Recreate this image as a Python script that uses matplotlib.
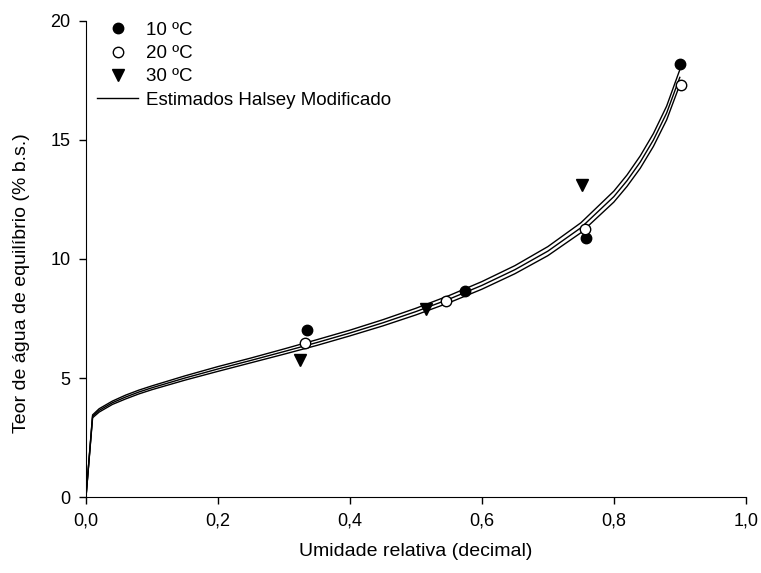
import matplotlib
matplotlib.use("Agg")
import matplotlib.pyplot as plt
from matplotlib.ticker import FuncFormatter

plt.rcParams["font.family"] = ["Liberation Sans", "DejaVu Sans"]

aw_10 = [0.335, 0.574, 0.758, 0.900]
x_10 = [7.00, 8.67, 10.87, 18.19]

aw_20 = [0.332, 0.545, 0.756, 0.902]
x_20 = [6.48, 8.24, 11.25, 17.31]

aw_30 = [0.325, 0.515, 0.752]
x_30 = [5.75, 7.90, 13.10]

# ---- Halsey modificado curves ----
aw_fit = [0.0, 0.01, 0.02, 0.04, 0.06, 0.08, 0.10, 0.15, 0.20, 0.25, 0.30,
          0.35, 0.40, 0.45, 0.50, 0.55, 0.60, 0.65, 0.70, 0.75, 0.80, 0.82,
          0.84, 0.86, 0.88, 0.90]
fit_top = [0, 3.45, 3.71, 4.03, 4.28, 4.49, 4.67, 5.09, 5.48, 5.84, 6.22,
           6.61, 7.01, 7.45, 7.93, 8.46, 9.05, 9.72, 10.52, 11.52, 12.85,
           13.53, 14.33, 15.27, 16.42, 17.95]
fit_mid = [0, 3.39, 3.64, 3.96, 4.20, 4.41, 4.59, 5.00, 5.38, 5.74, 6.11,
           6.49, 6.89, 7.32, 7.79, 8.31, 8.89, 9.55, 10.33, 11.31, 12.62,
           13.29, 14.07, 15.00, 16.13, 17.63]
fit_low = [0, 3.33, 3.57, 3.89, 4.12, 4.33, 4.51, 4.91, 5.28, 5.64, 6.00,
           6.37, 6.77, 7.19, 7.65, 8.16, 8.73, 9.38, 10.14, 11.10, 12.39,
           13.05, 13.81, 14.73, 15.84, 17.32]

fig = plt.figure(figsize=(7.61, 5.73), dpi=100)
ax = fig.add_axes([0.113, 0.1326, 0.867, 0.8308])

ax.plot(aw_fit, fit_top, color="black", lw=1.0,
        label="Estimados Halsey Modificado")
ax.plot(aw_fit, fit_mid, color="black", lw=1.0)
ax.plot(aw_fit, fit_low, color="black", lw=1.0)

ax.plot(aw_10, x_10, "o", ms=7.5, mfc="black", mec="black", ls="none",
        label="10 ºC")
ax.plot(aw_20, x_20, "o", ms=7.5, mfc="white", mec="black", mew=1.0,
        ls="none", label="20 ºC")
ax.plot(aw_30, x_30, "v", ms=8, mfc="black", mec="black", ls="none",
        label="30 ºC")

ax.set_xlim(0, 1.0)
ax.set_ylim(0, 20)
ax.set_xticks([0, 0.2, 0.4, 0.6, 0.8, 1.0])
ax.set_yticks([0, 5, 10, 15, 20])
ax.xaxis.set_major_formatter(FuncFormatter(lambda v, p: f"{v:.1f}".replace(".", ",")))
ax.yaxis.set_major_formatter(FuncFormatter(lambda v, p: f"{v:.0f}"))

for s in ["top", "right"]:
    ax.spines[s].set_visible(False)
ax.tick_params(direction="out", length=5, width=1, labelsize=13, pad=6)

ax.set_xlabel("Umidade relativa (decimal)", fontsize=14, labelpad=10)
ax.set_ylabel("Teor de água de equilíbrio (% b.s.)", fontsize=14)
ax.yaxis.set_label_coords(-0.085, 0.45)

handles, labels = ax.get_legend_handles_labels()
order = [1, 2, 3, 0]
ax.legend([handles[i] for i in order], [labels[i] for i in order],
          loc="upper left", bbox_to_anchor=(0.0, 1.022), frameon=False,
          fontsize=13.5, handlelength=2.2, handletextpad=0.4,
          labelspacing=0.33, borderaxespad=0.2)

fig.savefig("out.png", dpi=100)
